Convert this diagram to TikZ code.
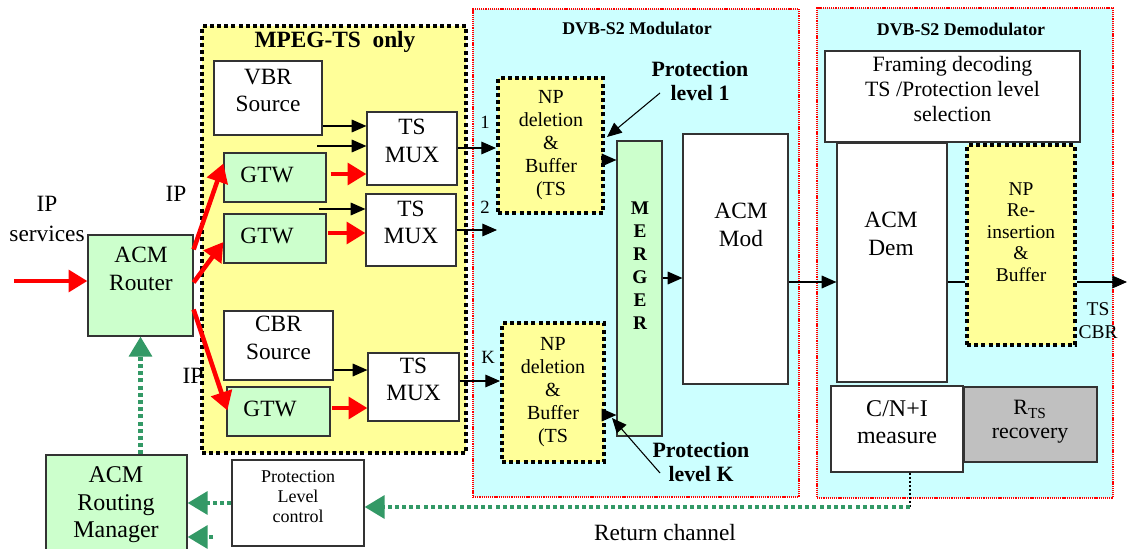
\documentclass[tikz,border=0pt]{standalone}
\usepackage{fontspec}
\setmainfont{Liberation Serif}
\usetikzlibrary{arrows.meta,fit,calc}
\definecolor{myyellow}{HTML}{FFFF99}
\definecolor{mycyan}{HTML}{CCFFFF}
\definecolor{mygreen}{HTML}{CCFFCC}
\definecolor{mygrey}{HTML}{C0C0C0}
\definecolor{arrowgreen}{HTML}{339966}
\definecolor{boxline}{HTML}{333333}
\begin{document}
\begin{tikzpicture}[x=0.75pt,y=-0.75pt,
  box/.style={draw=boxline,line width=0.9pt,inner sep=0pt,fill=white,align=center},
  gbox/.style={box,fill=mygreen},
  greybox/.style={box,fill=mygrey},
  npbox/.style={draw=black,line width=3pt,dash pattern=on 3pt off 2.4pt,fill=myyellow,inner sep=0pt},
  zone/.style={draw=red,line width=1.2pt,dash pattern=on 0.9pt off 0.7pt,fill=mycyan,inner sep=0pt},
  txt/.style={inner sep=0pt,align=center},
  fbig/.style={font=\fontsize{17.5pt}{20.7pt}\selectfont},
  fnp/.style={font=\fontsize{15pt}{17.25pt}\selectfont},
  blk/.style={-{Triangle[length=11pt,width=9.5pt]},line width=0.8pt,black},
  redarr/.style={-{Triangle[length=14pt,width=16pt]},red,line width=3.4pt},
  grarr/.style={-{Triangle[length=15pt,width=17pt]},arrowgreen,line width=3.2pt,dash pattern=on 3pt off 2.4pt}
]
\useasboundingbox (0,0) rectangle (1127,549);
\fill[white] (0,0) rectangle (1127,549);

% containers
\node[npbox,fit={(202,26)(466,453)}] (mpeg) {};
\node[txt,font=\bfseries\fontsize{17.5pt}{20pt}\selectfont] (mpegt) at (335,42) {MPEG-TS\ \ only};
\node[zone,fit={(473,9)(799,497)}] (mod) {};
\node[txt,font=\bfseries\fontsize{13.4pt}{15pt}\selectfont] (modt) at (637,28) {DVB-S2 Modulator};
\node[zone,fit={(817,8)(1113,498)}] (demod) {};
\node[txt,font=\bfseries\fontsize{13.4pt}{15pt}\selectfont] (demodt) at (961,29) {DVB-S2 Demodulator};

% MPEG-TS boxes
\node[box,fbig,fit={(214,61)(322,135)}] (vbr) {VBR\\Source};
\node[box,fbig,fit={(367,112)(457,185)}] (mux1) {TS\\MUX};
\node[gbox,fit={(224,153)(326,202)}] (gtw1) {};
\node[txt,fbig] (gtw1t) at (267,175) {GTW};
\node[gbox,fit={(224,214)(326,263)}] (gtw2) {};
\node[txt,fbig] (gtw2t) at (267,236) {GTW};
\node[box,fbig,fit={(366,194)(456,266)}] (mux2) {TS\\MUX};
\node[box,fbig,fit={(224,311)(333,380)}] (cbr) {CBR\\Source};
\node[box,fbig,fit={(368,353)(459,421)}] (mux3) {TS\\MUX};
\node[gbox,fit={(227,387)(330,436)}] (gtw3) {};
\node[txt,fbig] (gtw3t) at (270,409) {GTW};

% left side
\node[gbox,fit={(88,235)(193,336)}] (router) {};
\node[txt,fbig] (routert) at (141,269) {ACM\\Router};
\node[gbox,fit={(46,455)(187,556)}] (mgr) {};
\node[txt,font=\fontsize{18pt}{20.6pt}\selectfont] (mgrt) at (116,505) {ACM\\Routing\\Manager};
\node[box,font=\fontsize{13.5pt}{15pt}\selectfont,fit={(232,460)(364,546)}] (plc) {Protection\\Level\\control};
\node[txt,font=\fontsize{17.5pt}{22.5pt}\selectfont] (ipserv) at (47,219) {IP\\services};
\node[txt,fbig] (ip1) at (176,194) {IP};
\node[txt,fbig] (ip2) at (193,376) {IP};

% modulator
\node[npbox,fit={(498,78)(603,213)}] (np1) {};
\node[txt,fnp,anchor=north] (np1t) at (551,90) {NP\\deletion\\\&\\Buffer\\(TS};
\node[npbox,fit={(502,323)(604,462)}] (npk) {};
\node[txt,fnp,anchor=north] (npkt) at (553,337) {NP\\deletion\\\&\\Buffer\\(TS};
\node[gbox,fit={(617,141)(662,436)}] (merger) {};
\node[txt,font=\bfseries\fontsize{14.5pt}{17.25pt}\selectfont] (mergert) at (640,266) {M\\E\\R\\G\\E\\R};
\node[box,fit={(683,134)(788,384)}] (acmmod) {};
\node[txt,fbig] (acmmodt) at (741,225) {ACM\\Mod};
\node[txt,font=\bfseries\fontsize{16.4pt}{18.7pt}\selectfont] (pl1) at (700,81) {Protection\\level 1};
\node[txt,font=\bfseries\fontsize{16.4pt}{18pt}\selectfont] (plk) at (701,462) {Protection\\level K};
\node[txt,font=\fontsize{14pt}{16pt}\selectfont] (lab1) at (485,122) {1};
\node[txt,font=\fontsize{14pt}{16pt}\selectfont] (lab2) at (485,207) {2};
\node[txt,font=\fontsize{14pt}{16pt}\selectfont] (labk) at (488,357) {K};

% demodulator
\node[box,font=\fontsize{16.4pt}{18.75pt}\selectfont,fit={(825,51)(1080,142)}] (frm) {Framing decoding\\TS /Protection level\\selection};
\node[box,fit={(837,143)(947,382)}] (acmdem) {};
\node[txt,fbig] (acmdemt) at (891,234) {ACM\\Dem};
\node[npbox,fit={(967,145)(1075,345)}] (npr) {};
\node[txt,font=\fontsize{14.6pt}{16.1pt}\selectfont] (nprt) at (1021,232) {NP\\Re-\\insertion\\\&\\Buffer};
\node[txt,font=\fontsize{14.6pt}{17.3pt}\selectfont] (tscbr) at (1098,321) {TS\\CBR};
\node[box,fit={(831,386)(963,472)}] (cn) {};
\node[txt,font=\fontsize{18pt}{20.3pt}\selectfont] (cnt) at (897,422) {C/N+I\\measure};
\node[greybox,fit={(964,387)(1097,462)}] (rts) {};
\node[txt,font=\fontsize{16.4pt}{18pt}\selectfont] (rtst) at (1030,422) {R\textsubscript{TS}\\recovery};
\node[txt,fbig] (retch) at (665,533) {Return channel};

% helper coordinates
\coordinate (in0) at (14,281);
\coordinate (y126) at (0,126);
\coordinate (c1) at (317,146);
\coordinate (y174) at (0,174);
\coordinate (c2) at (319,209);
\coordinate (y233) at (0,233);
\coordinate (y370) at (0,370);
\coordinate (y408) at (0,408);
\coordinate (y148) at (0,148);
\coordinate (c3) at (497,230);
\coordinate (y381) at (0,381);
\coordinate (y160) at (0,160);
\coordinate (y415) at (0,415);
\coordinate (y278) at (0,278);
\coordinate (y282) at (0,282);
\coordinate (outp) at (1127,282);
\coordinate (pl1s) at (660,93);
\coordinate (pl1e) at (607,137);
\coordinate (plks) at (660,473);
\coordinate (plke) at (612,418);
\coordinate (ret) at (910,507);
\coordinate (ret2) at (213,537);

% black arrows
\draw[blk] (vbr.east |- y126) -- (mux1.west |- y126);
\draw[blk] (c1) -- (mux1.west |- c1);
\draw[blk] (c2) -- (mux2.west |- c2);
\draw[blk] (cbr.east |- y370) -- (mux3.west |- y370);
\draw[blk] (mux1.east |- y148) -- (np1.west |- y148);
\draw[blk] (mux2.east |- c3) -- (c3);
\draw[blk] (mux3.east |- y381) -- (npk.west |- y381);
\draw[blk] (np1.east |- y160) -- (merger.west |- y160);
\draw[blk] (npk.east |- y415) -- (merger.west |- y415);
\draw[blk] (merger.east |- y278) -- (acmmod.west |- y278);
\draw[blk] (acmmod.east |- y282) -- (acmdem.west |- y282);
\draw[line width=0.8pt] (acmdem.east |- y282) -- (npr.west |- y282);
\draw[blk] (npr.east |- y282) -- (outp);
\draw[blk] (pl1s) -- (pl1e);
\draw[blk] (plks) -- (plke);

% red arrows
\draw[redarr] (in0) -- (router.west |- in0);
\draw[redarr] ($(router.east)+(0,-36)$) -- ($(gtw1.west)+(0,-14)$);
\draw[redarr] ($(router.east)+(0,-3)$) -- ($(gtw2.west)+(0,3.5)$);
\draw[redarr] ($(router.east)+(0,24)$) -- ($(gtw3.west)+(1,-1)$);
\draw[redarr,shorten <=3pt] (gtw1.east |- y174) -- (mux1.west |- y174);
\draw[redarr,shorten <=1pt] (gtw2.east |- y233) -- (mux2.west |- y233);
\draw[redarr,shorten <=1pt] (gtw3.east |- y408) -- (mux3.west |- y408);

% green return arrows
\draw[grarr] (mgr.north -| router.south) -- (router.south);
\draw[grarr] (plc.west) -- (mgr.east |- plc.west);
\draw[grarr] (ret2) -- (mgr.east |- ret2);
\draw[black,line width=1.6pt,dash pattern=on 1.6pt off 1.4pt] (cn.south -| ret) -- (ret);
\draw[grarr] (ret) -- (plc.east |- ret);
\end{tikzpicture}
\end{document}
